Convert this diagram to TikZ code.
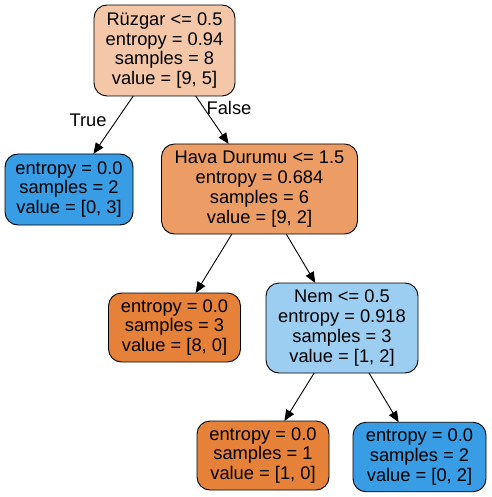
\documentclass[tikz,border=0pt]{standalone}
\usepackage{fontspec}
\setmainfont{Liberation Sans}
\usetikzlibrary{arrows.meta}
\definecolor{rootc}{HTML}{F3C7A7}
\definecolor{havac}{HTML}{EB9D65}
\definecolor{nemc}{HTML}{9CCEF2}
\definecolor{orleaf}{HTML}{E58139}
\definecolor{blleaf}{HTML}{399DE5}
\tikzset{
  tnode/.style={draw=black, line width=0.9pt, rounded corners=13pt, align=center,
    inner sep=0pt, outer sep=0pt, font=\fontsize{18.3}{19.8}\selectfont},
  tedge/.style={line width=0.9pt, -{Triangle[length=11pt,width=9pt]}},
  elabel/.style={font=\fontsize{18.3}{19.8}\selectfont, inner sep=0pt}
}
\begin{document}
\begin{tikzpicture}[x=1pt,y=-1pt]
\useasboundingbox (0,0) rectangle (491,497);
\node[tnode, fill=rootc, minimum width=141pt, minimum height=91pt] (root) at (164.5,50.5)
  {Rüzgar <= 0.5\\entropy = 0.94\\samples = 8\\value = [9, 5]};
\node[tnode, fill=blleaf, minimum width=128pt, minimum height=71pt] (l1) at (69,189.5)
  {entropy = 0.0\\samples = 2\\value = [0, 3]};
\node[tnode, fill=havac, minimum width=196pt, minimum height=90pt] (hava) at (259.5,189)
  {Hava Durumu <= 1.5\\entropy = 0.684\\samples = 6\\value = [9, 2]};
\node[tnode, fill=orleaf, minimum width=132pt, minimum height=69pt] (l2) at (174.5,327.5)
  {entropy = 0.0\\samples = 3\\value = [8, 0]};
\node[tnode, fill=nemc, minimum width=152pt, minimum height=90pt] (nem) at (342,328)
  {Nem <= 0.5\\entropy = 0.918\\samples = 3\\value = [1, 2]};
\node[tnode, fill=orleaf, minimum width=132pt, minimum height=69pt] (l3) at (263,455.5)
  {entropy = 0.0\\samples = 1\\value = [1, 0]};
\node[tnode, fill=blleaf, minimum width=133pt, minimum height=69.5pt] (l4) at (419.5,457)
  {entropy = 0.0\\samples = 2\\value = [0, 2]};
\draw[tedge] (root) -- (l1);
\draw[tedge] (root) -- (hava);
\draw[tedge] (hava) -- (l2);
\draw[tedge] (hava) -- (nem);
\draw[tedge] (nem) -- (l3);
\draw[tedge] (nem) -- (l4);
\node[elabel] (ltrue) at (88,120) {True};
\node[elabel] (lfalse) at (229,108) {False};
\end{tikzpicture}
\end{document}
